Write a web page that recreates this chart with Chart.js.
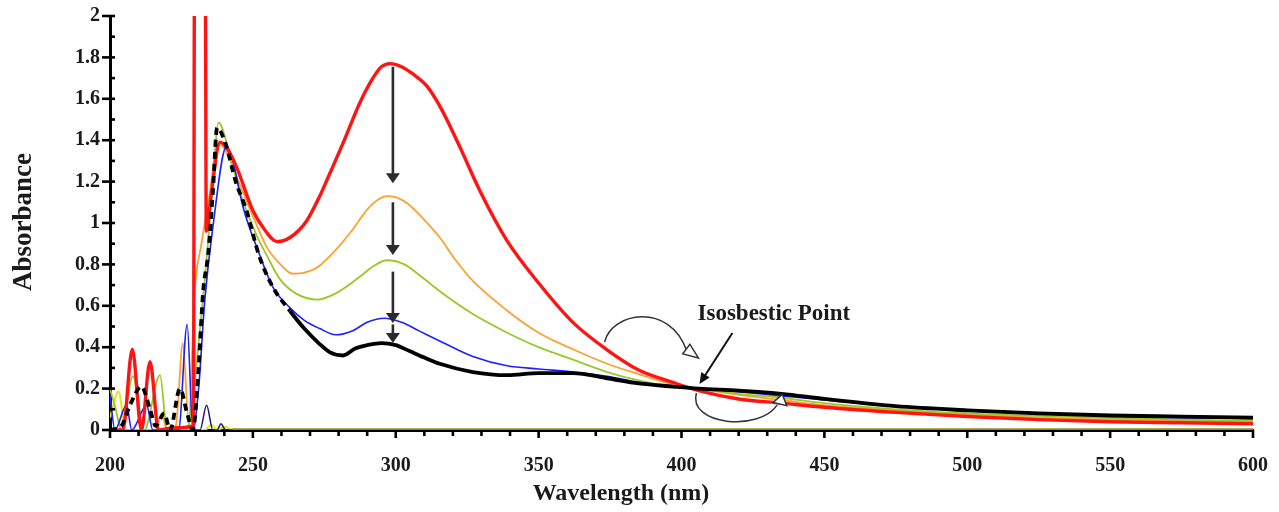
<!DOCTYPE html>
<html>
<head>
<meta charset="utf-8">
<script src="https://cdn.jsdelivr.net/npm/chart.js@4.4.1/dist/chart.umd.min.js"></script>
<style>
  html, body { margin: 0; padding: 0; background: #fff; }
  #wrap { width: 1279px; height: 512px; }
</style>
</head>
<body>
<div id="wrap"><canvas id="spectra" width="1279" height="512"></canvas></div>
<script>
const SERIF = "'Liberation Serif', 'DejaVu Serif', serif";

// wavelength (nm) / absorbance pairs for each scan
const redNm = [200, 204.5, 207.8, 211, 214, 217, 222, 229.2, 229.6, 233.3, 233.7, 235.5, 238.5, 241, 244.3, 250, 254, 258.5, 263, 268.8, 273.4, 276, 282, 287.4, 292, 295, 298, 302, 306, 311, 316, 322, 330, 338.7, 350, 362, 373.7, 385, 397, 406, 420, 435, 450, 475, 500, 525, 550, 575, 600];
const redAbs = [0, 0, 0.39, 0, 0.33, 0, 0.01, 0.02, 2.4, 2.4, 0.96, 1.15, 1.39, 1.36, 1.27, 1.06, 0.97, 0.91, 0.93, 1.01, 1.13, 1.21, 1.40, 1.58, 1.70, 1.755, 1.77, 1.755, 1.72, 1.66, 1.55, 1.38, 1.14, 0.92, 0.71, 0.52, 0.39, 0.29, 0.23, 0.19, 0.15, 0.13, 0.11, 0.085, 0.065, 0.05, 0.04, 0.035, 0.03];

const orangeNm = [200, 210, 216, 218, 220, 223, 225.5, 227.5, 229.7, 232, 235, 237.5, 240, 245, 251, 255, 259, 264, 268, 273, 279, 285, 290, 294, 297, 300, 304, 309, 315.4, 321, 327, 338.7, 350, 362, 374, 385, 397, 406, 420, 435, 450, 475, 500, 525, 550, 575, 600];
const orangeAbs = [0, 0, 0, 0.08, 0, 0.02, 0.42, 0.05, 0.68, 0.9, 1.15, 1.38, 1.36, 1.2, 1.0, 0.88, 0.81, 0.755, 0.76, 0.79, 0.87, 0.97, 1.065, 1.115, 1.13, 1.125, 1.095, 1.03, 0.93, 0.82, 0.72, 0.58, 0.47, 0.39, 0.32, 0.27, 0.22, 0.2, 0.17, 0.145, 0.12, 0.095, 0.075, 0.06, 0.05, 0.045, 0.04];

const greenNm = [200, 202, 204, 208, 212, 217.5, 220, 226, 228, 230.5, 233, 235.5, 238, 241, 245, 251, 255, 259.4, 265, 272.7, 279, 287.4, 292, 297, 303, 309, 315.4, 327, 339, 350, 362, 374, 385, 397, 406, 420, 435, 450, 475, 500, 525, 550, 575, 600];
const greenAbs = [0.2, 0.1, 0, 0.26, 0, 0.265, 0, 0, 0.05, 0.35, 0.7, 1.1, 1.485, 1.38, 1.17, 0.95, 0.84, 0.73, 0.66, 0.63, 0.66, 0.74, 0.79, 0.82, 0.8, 0.74, 0.67, 0.56, 0.47, 0.40, 0.34, 0.28, 0.24, 0.21, 0.2, 0.175, 0.155, 0.13, 0.1, 0.08, 0.068, 0.058, 0.05, 0.045];

const blueNm = [200, 201.7, 205.8, 207.6, 212.8, 215, 224, 227, 229, 231, 233.2, 236, 240.8, 243, 246.5, 252, 257, 263, 268, 273.4, 279, 285, 290, 296, 302, 308, 315.4, 327, 339, 350, 362, 374, 385, 397, 406, 420, 435, 450, 475, 500, 525, 550, 575, 600];
const blueAbs = [0.17, 0, 0.12, 0, 0.12, 0, 0, 0.51, 0, 0.2, 0.63, 0.98, 1.37, 1.3, 1.08, 0.86, 0.69, 0.59, 0.53, 0.49, 0.46, 0.48, 0.52, 0.54, 0.52, 0.48, 0.43, 0.355, 0.31, 0.295, 0.28, 0.26, 0.23, 0.21, 0.2, 0.185, 0.165, 0.145, 0.115, 0.093, 0.078, 0.068, 0.06, 0.055];

const blackNm = [200, 204, 207, 211, 214, 216, 219, 221, 224.5, 227, 229, 231, 232.6, 234.4, 236, 237.5, 240.5, 244, 247.8, 252, 257, 263, 268, 273, 277, 281.5, 286, 290, 295, 300, 305, 310, 315.4, 327, 339, 350, 362, 374, 385, 397, 406, 420, 435, 450, 475, 500, 525, 550, 575, 600];
const blackAbs = [0, 0.02, 0.12, 0.21, 0.1, 0.02, 0.08, 0, 0.2, 0.08, 0, 0.3, 0.67, 0.855, 1.15, 1.46, 1.38, 1.2, 1.06, 0.85, 0.69, 0.575, 0.49, 0.42, 0.375, 0.36, 0.395, 0.41, 0.42, 0.41, 0.38, 0.35, 0.32, 0.28, 0.265, 0.275, 0.275, 0.25, 0.225, 0.21, 0.2, 0.19, 0.175, 0.15, 0.115, 0.095, 0.08, 0.07, 0.065, 0.06];
const blackDashEnd = 263;

const navyNm = [229, 231.5, 233.8, 236, 237.5, 238.8, 240.5, 243];
const navyAbs = [0, 0, 0.12, 0, 0, 0.03, 0, 0];

const yellowNm = [200, 203, 205.5, 215, 233, 235.5, 237.5, 240, 243, 600];
const yellowAbs = [0.06, 0.185, 0, 0, 0, 0.025, 0, 0.015, 0.003, 0.003];

const xTicks = [200, 600, 50, 10];   // min, max, major step, minor step
const yTicks = [0, 2, 0.2, 0.1];

// arrows marking the drop of the ~297 nm band between scans
const bandArrowNm = 299;
const bandArrowFrom = [1.755, 1.10, 0.765, 0.51];
const bandArrowTo = [1.192, 0.845, 0.517, 0.42];

function pts(xs, ys) { return xs.map((x, i) => ({ x, y: ys[i] })); }

function line(data, color, width, extra) {
  return Object.assign({
    data, borderColor: color, borderWidth: width,
    pointRadius: 0, fill: false, cubicInterpolationMode: 'monotone'
  }, extra || {});
}

const datasets = [
  line(pts(blackNm, blackAbs), '#000000', 3.8, {
    segment: { borderDash: ctx => ctx.p1.parsed.x <= blackDashEnd ? [7, 5] : undefined }
  }),
  line(pts(redNm, redAbs), '#ff1414', 3.4),
  line(pts(blueNm, blueAbs), '#1f1fff', 1.6),
  line(pts(navyNm, navyAbs), '#1a1a80', 1.5),
  line(pts(greenNm, greenAbs), '#99c928', 1.8),
  line(pts(orangeNm, orangeAbs), '#ffa033', 1.8),
  line(pts(yellowNm, yellowAbs), '#e6e61a', 2.2, {
    segment: { borderColor: ctx => ctx.p0.parsed.x >= 243 ? '#8f8f10' : undefined }
  })
];

function arrowHead(ctx, tx, ty, fx, fy, len, half, hollow) {
  const a = Math.atan2(ty - fy, tx - fx);
  const bx = tx - len * Math.cos(a), by = ty - len * Math.sin(a);
  ctx.beginPath();
  ctx.moveTo(tx, ty);
  ctx.lineTo(bx + half * Math.sin(a), by - half * Math.cos(a));
  ctx.lineTo(bx - half * Math.sin(a), by + half * Math.cos(a));
  ctx.closePath();
  if (hollow) {
    ctx.fillStyle = '#fff';
    ctx.fill();
    ctx.lineWidth = 1.5;
    ctx.stroke();
  } else {
    ctx.fill();
  }
}

const annotate = {
  id: 'annotate',
  afterDatasetsDraw(chart) {
    const { ctx, scales: { x, y } } = chart;
    const px = v => x.getPixelForValue(v);
    const py = v => y.getPixelForValue(v);
    ctx.save();

    // band arrows
    ctx.strokeStyle = '#2b2b2b';
    ctx.fillStyle = '#2b2b2b';
    ctx.lineWidth = 2.6;
    const ax = px(bandArrowNm);
    bandArrowFrom.forEach((f, i) => {
      const y0 = py(f), y1 = py(bandArrowTo[i]);
      ctx.beginPath();
      ctx.moveTo(ax, y0);
      ctx.lineTo(ax, y1 - 8);
      ctx.stroke();
      arrowHead(ctx, ax, y1, ax, y0, 10, 7, false);
    });

    // isosbestic label and pointer
    ctx.fillStyle = '#1a1a1a';
    ctx.font = 'bold 23px ' + SERIF;
    ctx.textAlign = 'left';
    ctx.textBaseline = 'middle';
    ctx.fillText('Isosbestic Point', px(405.6), py(0.56));

    ctx.strokeStyle = '#111';
    ctx.fillStyle = '#111';
    ctx.lineWidth = 2;
    const sx = px(417.8), sy = py(0.469), tx = px(406.3), ty = py(0.222);
    const ang = Math.atan2(ty - sy, tx - sx);
    ctx.beginPath();
    ctx.moveTo(sx, sy);
    ctx.lineTo(tx - 9 * Math.cos(ang), ty - 9 * Math.sin(ang));
    ctx.stroke();
    arrowHead(ctx, tx, ty, sx, sy, 11, 5, false);

    // curved arrows around the crossing
    ctx.strokeStyle = '#333';
    ctx.lineWidth = 1.5;
    ctx.beginPath();
    ctx.moveTo(px(373.1), py(0.425));
    ctx.bezierCurveTo(px(375.5), py(0.57), px(395.8), py(0.618), px(401.7), py(0.386));
    ctx.stroke();
    arrowHead(ctx, px(405.9), py(0.348), px(400.8), py(0.40), 15, 6, true);

    ctx.beginPath();
    ctx.moveTo(px(405.2), py(0.179));
    ctx.bezierCurveTo(px(402.1), py(0.024), px(427.3), py(-0.01), px(433.5), py(0.121));
    ctx.stroke();
    arrowHead(ctx, px(435.3), py(0.172), px(434), py(0.10), 10, 7, true);

    ctx.restore();
  },
  afterDraw(chart) {
    const { ctx, scales: { x, y } } = chart;
    ctx.save();
    ctx.strokeStyle = '#000';
    ctx.lineWidth = 2.6;

    // y ticks: major cross the axis, minor sit inside
    const x0 = x.getPixelForValue(xTicks[0]);
    const ny = Math.round((yTicks[1] - yTicks[0]) / yTicks[3]);
    for (let i = 0; i <= ny; i++) {
      const yy = y.getPixelForValue(yTicks[0] + i * yTicks[3]);
      const major = i % Math.round(yTicks[2] / yTicks[3]) === 0;
      ctx.beginPath();
      ctx.moveTo(major ? x0 - 8 : x0, yy);
      ctx.lineTo(x0 + 5, yy);
      ctx.stroke();
    }
    // x ticks below the axis
    const y0 = y.getPixelForValue(yTicks[0]);
    const nx = Math.round((xTicks[1] - xTicks[0]) / xTicks[3]);
    for (let i = 0; i <= nx; i++) {
      const xx = x.getPixelForValue(xTicks[0] + i * xTicks[3]);
      const major = i % Math.round(xTicks[2] / xTicks[3]) === 0;
      ctx.beginPath();
      ctx.moveTo(xx, y0);
      ctx.lineTo(xx, y0 + (major ? 8 : 6));
      ctx.stroke();
    }

    // axis titles
    ctx.fillStyle = '#1a1a1a';
    ctx.textAlign = 'center';
    ctx.textBaseline = 'middle';
    ctx.font = 'bold 24px ' + SERIF;
    ctx.fillText('Wavelength (nm)', 621, 494);
    ctx.translate(24, 222);
    ctx.rotate(-Math.PI / 2);
    ctx.font = 'bold 27px ' + SERIF;
    ctx.fillText('Absorbance', 0, 0);
    ctx.restore();
  }
};

const tickFont = { family: SERIF, size: 20, weight: 'bold' };

new Chart(document.getElementById('spectra'), {
  type: 'line',
  data: { datasets },
  plugins: [annotate],
  options: {
    responsive: false,
    animation: false,
    events: [],
    layout: { padding: { top: 16, right: 26, left: 0, bottom: 0 } },
    plugins: { legend: { display: false }, tooltip: { enabled: false } },
    scales: {
      x: {
        type: 'linear',
        min: xTicks[0], max: xTicks[1],
        afterFit: s => { s.height = 82; s.paddingLeft = 0; s.paddingRight = 0; },
        grid: { display: false, drawTicks: false },
        border: { display: true, color: '#000', width: 3 },
        ticks: { stepSize: xTicks[2], padding: 24, color: '#1a1a1a', font: tickFont }
      },
      y: {
        type: 'linear',
        min: yTicks[0], max: yTicks[1],
        afterFit: s => { s.width = 110; s.paddingTop = 0; s.paddingBottom = 0; },
        grid: { display: false, drawTicks: false },
        border: { display: true, color: '#000', width: 3 },
        ticks: {
          stepSize: yTicks[2], padding: 10, color: '#1a1a1a', font: tickFont,
          callback: v => String(parseFloat(v.toFixed(1)))
        }
      }
    }
  }
});
</script>
</body>
</html>
